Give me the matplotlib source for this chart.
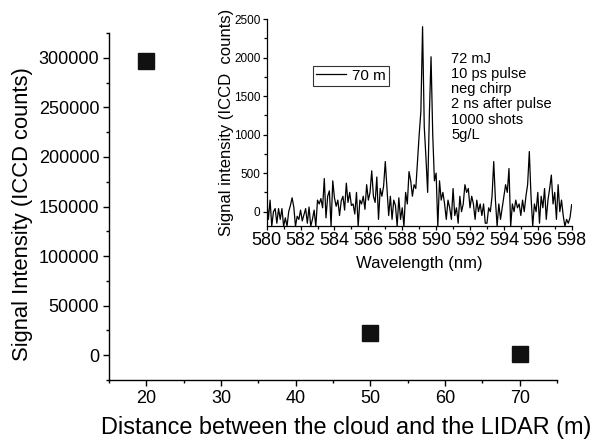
import numpy as np
import matplotlib
matplotlib.use("Agg")
import matplotlib.pyplot as plt
from matplotlib.ticker import MultipleLocator

plt.rcParams['font.family'] = ['Liberation Sans', 'DejaVu Sans']

# Main data
distance = [20, 50, 70]
signal = [297000, 22000, 1000]

# Inset spectrum (0.1 nm steps from 580.0 to 598.0)
wl_start, wl_end = 580.0, 598.0
spec_580 = [170, -100, 150, -190, 0, 40, -150, 40, -100, 40]
spec_581 = [-190, -80, -190, 0, 80, 180, 60, -190, -60, -100]
spec_582 = [20, -120, -40, 40, -150, 60, -190, -100, 20, -190]
spec_583 = [150, 100, 170, 50, 430, -80, 200, 270, -190, 400]
spec_584 = [180, 70, 150, -50, 140, 200, 20, 370, 120, 250]
spec_585 = [80, 100, -30, 250, -190, 150, 100, 200, 30, 350]
spec_586 = [150, 250, 530, 200, 120, 450, -100, 300, 200, 330]
spec_587 = [650, 300, -50, 200, -100, 150, 80, -190, 180, -100]
spec_588 = [50, -190, 250, 100, 520, 400, 200, 350, 300, 650]
spec_589 = [1000, 1300, 2400, 1100, 700, 250, 1250, 2010, 1000, 400]
spec_590 = [500, -190, 400, 150, 250, 100, -100, 150, 50, -100]
spec_591 = [300, -50, 50, -150, 200, 0, 100, 350, 250, 300]
spec_592 = [50, 200, 100, -100, 150, 0, 100, -50, 100, -150]
spec_593 = [-150, 50, 0, 200, 650, 150, -190, 100, -100, 50]
spec_594 = [200, 350, 250, 560, -190, 100, 0, 150, 50, 100]
spec_595 = [-50, 150, 0, 200, 350, 780, 200, -190, 100, 0]
spec_596 = [250, -150, 200, 50, 300, -100, 150, 300, 475, 100]
spec_597 = [250, -100, 350, 0, 150, -50, -190, -100, -150, -80]
spec_598 = [90]

spectrum = (spec_580 + spec_581 + spec_582 + spec_583 + spec_584 + spec_585 +
            spec_586 + spec_587 + spec_588 + spec_589 + spec_590 + spec_591 +
            spec_592 + spec_593 + spec_594 + spec_595 + spec_596 + spec_597 +
            spec_598)
wavelength = np.linspace(wl_start, wl_end, len(spectrum))

annotation_lines = ["72 mJ", "10 ps pulse", "neg chirp", "2 ns after pulse",
                    "1000 shots", "5g/L"]

fig = plt.figure(figsize=(5.95, 4.44), dpi=100)

# ---- main axes ----
ax = fig.add_axes([0.1832, 0.1441, 0.753, 0.7815])
ax.plot(distance, signal, linestyle='none', marker='s', markersize=11,
        color='#111111', markeredgecolor='#111111')
ax.set_xlim(15, 75)
ax.set_ylim(-25000, 325000)
ax.xaxis.set_major_locator(MultipleLocator(10))
ax.xaxis.set_minor_locator(MultipleLocator(5))
ax.yaxis.set_major_locator(MultipleLocator(50000))
ax.yaxis.set_minor_locator(MultipleLocator(25000))
for s in ['top', 'right']:
    ax.spines[s].set_visible(False)
for s in ['left', 'bottom']:
    ax.spines[s].set_linewidth(1.0)
ax.tick_params(which='major', direction='out', length=4, width=1.0,
               labelsize=13, pad=3)
ax.tick_params(which='minor', direction='out', length=2.5, width=1.0)
ax.set_xlabel("Distance between the cloud and the LIDAR (m)", fontsize=16.9)
ax.xaxis.set_label_coords(0.53, -0.105)
ax.set_ylabel("Signal Intensity (ICCD counts)", fontsize=15.8)
ax.yaxis.set_label_coords(-0.17, 0.478)

# ---- inset axes ----
ins = fig.add_axes([0.4482, 0.491, 0.5126, 0.4662])
ins.plot(wavelength, spectrum, color='black', linewidth=0.9, label='70 m')
ins.set_xlim(580, 598)
ins.set_ylim(-186, 2500)
ins.xaxis.set_major_locator(MultipleLocator(2))
ins.xaxis.set_minor_locator(MultipleLocator(1))
ins.yaxis.set_major_locator(MultipleLocator(500))
ins.yaxis.set_minor_locator(MultipleLocator(250))
ins.patch.set_alpha(0)
for s in ['top', 'right']:
    ins.spines[s].set_visible(False)
for s in ['left', 'bottom']:
    ins.spines[s].set_linewidth(0.9)
ins.tick_params(axis='x', which='major', direction='out', length=3, width=0.9,
                labelsize=13, pad=1.5)
ins.tick_params(axis='y', which='major', direction='out', length=3, width=0.9,
                labelsize=8.5, pad=1.5)
ins.tick_params(which='minor', direction='out', length=2, width=0.9)
ins.set_xlabel("Wavelength (nm)", fontsize=12, labelpad=5)
ins.set_ylabel("Signal intensity (ICCD  counts)", fontsize=12, labelpad=0)
leg = ins.legend(loc='upper left', bbox_to_anchor=(0.151, 0.774), fontsize=11,
                 frameon=True, fancybox=False, handlelength=2.0,
                 borderpad=0.2, handletextpad=0.4, borderaxespad=0)
leg.get_frame().set_edgecolor('black')
leg.get_frame().set_linewidth(0.8)
ins.text(0.605, 0.84, "\n".join(annotation_lines), transform=ins.transAxes,
         fontsize=10.5, va='top', ha='left', linespacing=1.1)

fig.savefig("out.png", dpi=100)
